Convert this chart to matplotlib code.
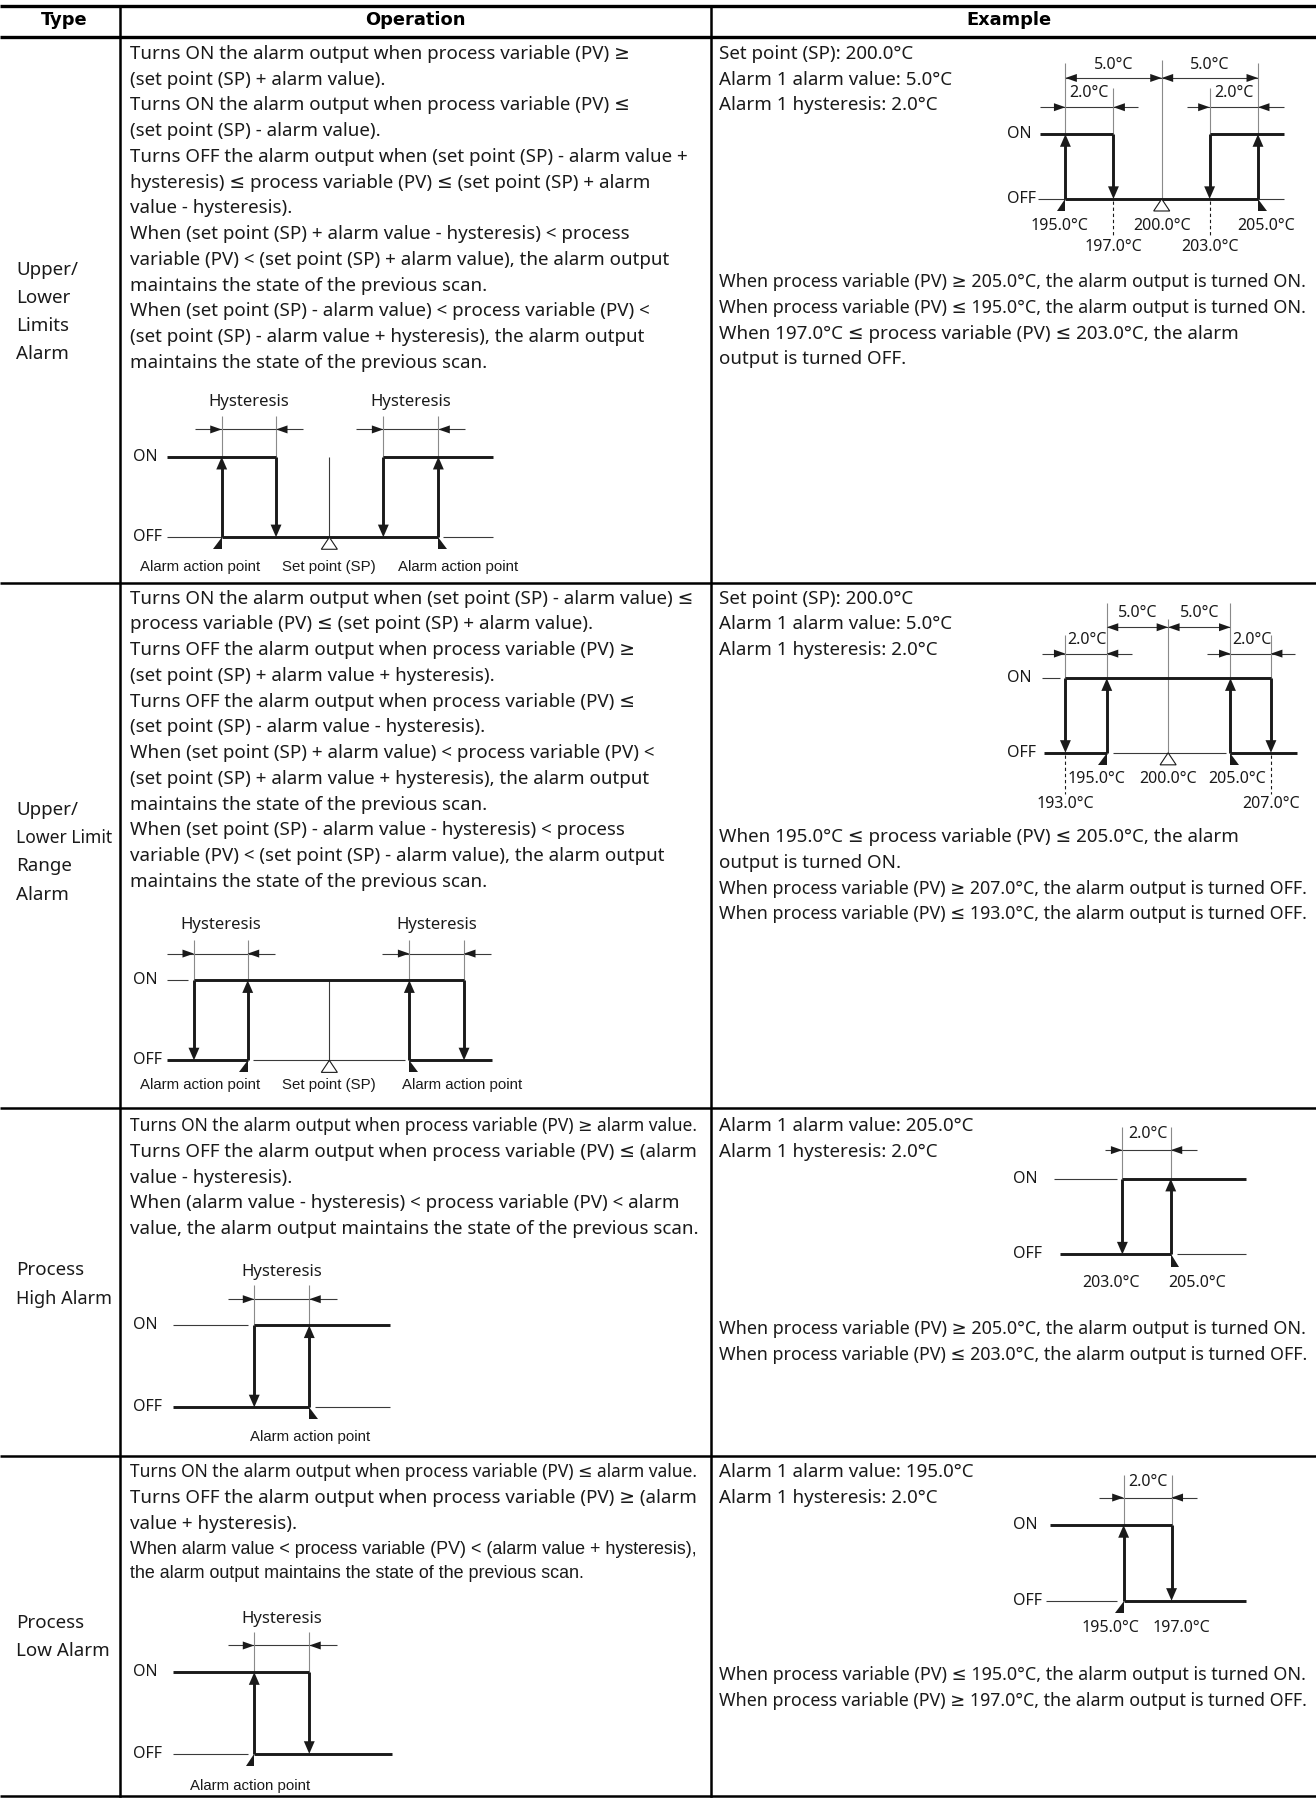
import matplotlib
matplotlib.use('Agg')
import matplotlib.pyplot as plt

# ---------------- data ----------------
headers = ['Type', 'Operation', 'Example']

alarm_types = [
    ['Upper/', 'Lower', 'Limits', 'Alarm'],
    ['Upper/', 'Lower Limit', 'Range', 'Alarm'],
    ['Process', 'High Alarm'],
    ['Process', 'Low Alarm'],
]

operation_lines = [
    ['Turns ON the alarm output when process variable (PV) ≥',
     '(set point (SP) + alarm value).',
     'Turns ON the alarm output when process variable (PV) ≤',
     '(set point (SP) - alarm value).',
     'Turns OFF the alarm output when (set point (SP) - alarm value +',
     'hysteresis) ≤ process variable (PV) ≤ (set point (SP) + alarm',
     'value - hysteresis).',
     'When (set point (SP) + alarm value - hysteresis) < process',
     'variable (PV) < (set point (SP) + alarm value), the alarm output',
     'maintains the state of the previous scan.',
     'When (set point (SP) - alarm value) < process variable (PV) <',
     '(set point (SP) - alarm value + hysteresis), the alarm output',
     'maintains the state of the previous scan.'],
    ['Turns ON the alarm output when (set point (SP) - alarm value) ≤',
     'process variable (PV) ≤ (set point (SP) + alarm value).',
     'Turns OFF the alarm output when process variable (PV) ≥',
     '(set point (SP) + alarm value + hysteresis).',
     'Turns OFF the alarm output when process variable (PV) ≤',
     '(set point (SP) - alarm value - hysteresis).',
     'When (set point (SP) + alarm value) < process variable (PV) <',
     '(set point (SP) + alarm value + hysteresis), the alarm output',
     'maintains the state of the previous scan.',
     'When (set point (SP) - alarm value - hysteresis) < process',
     'variable (PV) < (set point (SP) - alarm value), the alarm output',
     'maintains the state of the previous scan.'],
    ['Turns ON the alarm output when process variable (PV) ≥ alarm value.',
     'Turns OFF the alarm output when process variable (PV) ≤ (alarm',
     'value - hysteresis).',
     'When (alarm value - hysteresis) < process variable (PV) < alarm',
     'value, the alarm output maintains the state of the previous scan.'],
    ['Turns ON the alarm output when process variable (PV) ≤ alarm value.',
     'Turns OFF the alarm output when process variable (PV) ≥ (alarm',
     'value + hysteresis).'],
]
# last two lines of the low alarm row are set in a narrower face
operation_narrow = ['When alarm value < process variable (PV) < (alarm value + hysteresis),',
                    'the alarm output maintains the state of the previous scan.']

set_point = 200.0
alarm_value = 5.0
hysteresis = 2.0
high_alarm = 205.0
low_alarm = 195.0
limits_temps = [195.0, 197.0, 200.0, 203.0, 205.0]
range_temps = [193.0, 195.0, 200.0, 205.0, 207.0]
high_temps = [203.0, 205.0]
low_temps = [195.0, 197.0]


def deg(v):
    return f'{v:.1f}°C'


example_settings = [
    [f'Set point (SP): {deg(set_point)}', f'Alarm 1 alarm value: {deg(alarm_value)}',
     f'Alarm 1 hysteresis: {deg(hysteresis)}'],
    [f'Set point (SP): {deg(set_point)}', f'Alarm 1 alarm value: {deg(alarm_value)}',
     f'Alarm 1 hysteresis: {deg(hysteresis)}'],
    [f'Alarm 1 alarm value: {deg(high_alarm)}', f'Alarm 1 hysteresis: {deg(hysteresis)}'],
    [f'Alarm 1 alarm value: {deg(low_alarm)}', f'Alarm 1 hysteresis: {deg(hysteresis)}'],
]
example_results = [
    [f'When process variable (PV) ≥ {deg(limits_temps[4])}, the alarm output is turned ON.',
     f'When process variable (PV) ≤ {deg(limits_temps[0])}, the alarm output is turned ON.',
     f'When {deg(limits_temps[1])} ≤ process variable (PV) ≤ {deg(limits_temps[3])}, the alarm',
     'output is turned OFF.'],
    [f'When {deg(range_temps[1])} ≤ process variable (PV) ≤ {deg(range_temps[3])}, the alarm',
     'output is turned ON.',
     f'When process variable (PV) ≥ {deg(range_temps[4])}, the alarm output is turned OFF.',
     f'When process variable (PV) ≤ {deg(range_temps[0])}, the alarm output is turned OFF.'],
    [f'When process variable (PV) ≥ {deg(high_temps[1])}, the alarm output is turned ON.',
     f'When process variable (PV) ≤ {deg(high_temps[0])}, the alarm output is turned OFF.'],
    [f'When process variable (PV) ≤ {deg(low_temps[0])}, the alarm output is turned ON.',
     f'When process variable (PV) ≥ {deg(low_temps[1])}, the alarm output is turned OFF.'],
]

# ---------------- layout (units of a 1148 x 1568 sheet) ----------------
SHEET_W, SHEET_H = 1148, 1568
row_lines = [5.5, 32, 508, 966, 1270, 1566]
col_lines = [105, 620]
type_x, op_x, ex_x = 14, 113, 627
type_max, op_max, ex_max = 98, 609, 1141
pitch = 22.45
type_y0 = [235.4, 706.6, 1107.9, 1415]
op_y0 = [47, 522, 982, 1284]
result_y0 = [246, 730, 1159, 1461]

INK = '#1a1a1a'
GREY = '#8a8a8a'
DARK = '#3a3a3a'
THICK = 2.1
THIN = 0.8
BODY = ['Noto Sans', 'DejaVu Sans']
NARROW = ['Liberation Sans', 'DejaVu Sans']
FS = 13.5

fig = plt.figure(figsize=(13.16, 17.98), dpi=100)
ax = fig.add_axes([0, 0, 1, 1])
ax.set_xlim(0, SHEET_W)
ax.set_ylim(SHEET_H, 0)
ax.axis('off')
renderer = fig.canvas.get_renderer()


def line(xs, ys, bold=False, color=INK, ls='-'):
    ax.plot(xs, ys, color=color, lw=THICK if bold else THIN, ls=ls,
            solid_capstyle='butt', zorder=3 if bold else 2)


def head(x, y, d, w=9.5, l=11):
    if d == 'up':
        pts = [(x, y), (x - w / 2, y + l), (x + w / 2, y + l)]
    elif d == 'down':
        pts = [(x, y), (x - w / 2, y - l), (x + w / 2, y - l)]
    elif d == 'right':
        pts = [(x, y), (x - l, y - w / 2), (x - l, y + w / 2)]
    else:
        pts = [(x, y), (x + l, y - w / 2), (x + l, y + w / 2)]
    xs, ys = zip(*pts)
    ax.fill(xs, ys, color=INK, lw=0, zorder=4)


def switch(x, y_from, y_to):
    up = y_to < y_from
    line([x, x], [y_from, y_to + (8 if up else -8)], bold=True)
    head(x, y_to, 'up' if up else 'down')


def dim_in(x1, x2, y, left, right):
    line([left, right], [y, y], color=DARK)
    head(x1, y, 'right', 7, 10)
    head(x2, y, 'left', 7, 10)


def dim_out(x1, x2, y):
    line([x1, x2], [y, y], color=DARK)
    head(x1, y, 'left', 7, 10)
    head(x2, y, 'right', 7, 10)


def action_mark(x, y, side):
    dx = -7.5 if side == 'left' else 7.5
    ax.fill([x, x, x + dx], [y, y + 10.5, y + 10.5], color=INK, lw=0, zorder=4)


def sp_mark(x, y):
    ax.fill([x, x - 7, x + 7], [y, y + 10.5, y + 10.5], facecolor='white',
            edgecolor=INK, lw=0.8, zorder=4)


def label(x, y, s, ha='center', size=12, family=BODY, right=None):
    t = ax.text(x, y, s, ha=ha, va='center', fontsize=size, family=family, color=INK)
    if right is not None:
        # the source squeezes long lines into the cell; shrink to the same width
        room = ax.transData.transform((right, 0))[0] - ax.transData.transform((x, 0))[0]
        width = t.get_window_extent(renderer).width
        if width > room:
            t.set_fontsize(size * room / width)
    return t


# ---------------- table frame ----------------
for i, y in enumerate(row_lines):
    ax.plot([0, SHEET_W], [y, y], color='black', lw=2.4 if i < 2 else 1.8, solid_capstyle='butt')
for x in col_lines:
    ax.plot([x, x], [row_lines[0], row_lines[-1]], color='black', lw=1.8)

for x, h in zip([56, 362.5, 880], headers):
    ax.text(x, 17.5, h, ha='center', va='center', fontsize=12.9, fontweight='bold',
            family='DejaVu Sans')

for r in range(4):
    for i, s in enumerate(alarm_types[r]):
        label(type_x, type_y0[r] + i * 24.5, s, ha='left', size=FS, right=type_max)
    for i, s in enumerate(operation_lines[r]):
        label(op_x, op_y0[r] + i * pitch, s, ha='left', size=FS, right=op_max)
    for i, s in enumerate(example_settings[r]):
        label(ex_x, op_y0[r] + i * pitch, s, ha='left', size=FS, right=ex_max)
    for i, s in enumerate(example_results[r]):
        label(ex_x, result_y0[r] + i * pitch, s, ha='left', size=FS, right=ex_max)
for i, s in enumerate(operation_narrow):
    label(op_x, 1351 + i * 21.5, s, ha='left', size=12.9, family=NARROW, right=op_max)

# ---------------- operation diagrams ----------------
# Upper/lower limits
a, b, sp, c, d = 193.4, 240.8, 287.3, 334.4, 382.4
on, off = 398.4, 468.5
label(116, on, 'ON', ha='left', size=11.5)
label(116, off, 'OFF', ha='left', size=11.5)
for x0, x1 in [(a, b), (c, d)]:
    label((x0 + x1) / 2, 350.4, 'Hysteresis', size=12)
    dim_in(x0, x1, 374.5, x0 - 23.5, x1 + 23.5)
    for x in (x0, x1):
        line([x, x], [363, on], color=GREY)
line([145.4, b], [on, on], bold=True)
line([c, 430.3], [on, on], bold=True)
line([145.4, a], [off, off], color=DARK)
line([a, d], [off, off], bold=True)
line([d + 4, 430.3], [off, off], color=DARK)
line([sp, sp], [on, off], color=DARK)
switch(a, off, on)
switch(b, on, off)
switch(c, on, off)
switch(d, off, on)
action_mark(a, off, 'left')
action_mark(d, off, 'right')
sp_mark(sp, off)
label(174.5, 494.4, 'Alarm action point', size=10.8, family=NARROW)
label(sp, 494.4, 'Set point (SP)', size=10.8, family=NARROW)
label(399.5, 494.4, 'Alarm action point', size=10.8, family=NARROW)

# Upper/lower limit range
a, b, sp, c, d = 169.2, 216.1, 287.3, 357.1, 404.8
on, off = 854.9, 924.7
label(116, on, 'ON', ha='left', size=11.5)
label(116, off, 'OFF', ha='left', size=11.5)
for x0, x1 in [(a, b), (c, d)]:
    label((x0 + x1) / 2, 806.9, 'Hysteresis', size=12)
    dim_in(x0, x1, 831.6, x0 - 23.5, x1 + 23.5)
    for x in (x0, x1):
        line([x, x], [819.4, on], color=GREY)
line([145.4, 164.3], [on, on], color=DARK)
line([a, d], [on, on], bold=True)
line([145.4, b], [off, off], bold=True)
line([b + 5, c - 4], [off, off], color=DARK)
line([c, 428.9], [off, off], bold=True)
line([sp, sp], [on, off], color=DARK)
switch(a, on, off)
switch(b, off, on)
switch(c, off, on)
switch(d, on, off)
action_mark(b, off, 'left')
action_mark(c, off, 'right')
sp_mark(sp, off)
label(174.5, 946, 'Alarm action point', size=10.8, family=NARROW)
label(sp, 946, 'Set point (SP)', size=10.8, family=NARROW)
label(402.8, 946, 'Alarm action point', size=10.8, family=NARROW)

# Process high
a, b = 221.8, 269.8
on, off = 1155.9, 1227.3
label(116, on, 'ON', ha='left', size=11.5)
label(116, off, 'OFF', ha='left', size=11.5)
label((a + b) / 2, 1109, 'Hysteresis', size=12)
dim_in(a, b, 1133, a - 22.6, b + 23.9)
for x in (a, b):
    line([x, x], [1121, on], color=GREY)
line([151.2, 216.6], [on, on], color=DARK)
line([a, 340.2], [on, on], bold=True)
line([151.2, b], [off, off], bold=True)
line([274.8, 340.2], [off, off], color=DARK)
switch(a, on, off)
switch(b, off, on)
action_mark(b, off, 'right')
label(270.4, 1253.3, 'Alarm action point', size=10.8, family=NARROW)

# Process low
on, off = 1458.3, 1529.5
label(116, on, 'ON', ha='left', size=11.5)
label(116, off, 'OFF', ha='left', size=11.5)
label((a + b) / 2, 1411.7, 'Hysteresis', size=12)
dim_in(a, b, 1435, a - 22.6, b + 23.9)
for x in (a, b):
    line([x, x], [1423.4, on], color=GREY)
line([151.2, b], [on, on], bold=True)
line([151.2, 216.6], [off, off], color=DARK)
line([a, 341.7], [off, off], bold=True)
switch(a, off, on)
switch(b, on, off)
action_mark(a, off, 'left')
label(218.1, 1557.2, 'Alarm action point', size=10.8, family=NARROW)

# ---------------- example diagrams ----------------
EFS = 11.5

# Upper/lower limits example
t = limits_temps
p = dict(zip(t, [929.4, 971.3, 1013.4, 1055.2, 1097.4]))
on, off = 117, 173.5
label(900, on, 'ON', ha='right', size=EFS)
label(904, off, 'OFF', ha='right', size=EFS)
dim_out(p[t[0]], p[t[2]], 68)
dim_out(p[t[2]], p[t[4]], 68)
label((p[t[0]] + p[t[2]]) / 2, 57, deg(alarm_value), size=EFS)
label((p[t[2]] + p[t[4]]) / 2, 57, deg(alarm_value), size=EFS)
dim_in(p[t[0]], p[t[1]], 93.5, 907.2, 992.7)
dim_in(p[t[3]], p[t[4]], 93.5, 1035.5, 1119.7)
label(950.3, 81, deg(hysteresis), size=EFS)
label(1076.2, 81, deg(hysteresis), size=EFS)
line([p[t[0]]] * 2, [55, on], color=GREY)
line([p[t[4]]] * 2, [55, on], color=GREY)
line([p[t[1]]] * 2, [77, on], color=GREY)
line([p[t[3]]] * 2, [77, on], color=GREY)
line([p[t[2]]] * 2, [52, off], color=GREY)
line([907, p[t[1]]], [on, on], bold=True)
line([p[t[3]], 1119.7], [on, on], bold=True)
line([905.5, p[t[0]]], [off, off], color=DARK)
line([p[t[0]], p[t[4]]], [off, off], bold=True)
line([p[t[4]], 1119.7], [off, off], color=DARK)
switch(p[t[0]], off, on)
switch(p[t[1]], on, off)
switch(p[t[3]], on, off)
switch(p[t[4]], off, on)
action_mark(p[t[0]], off, 'left')
action_mark(p[t[4]], off, 'right')
sp_mark(p[t[2]], off)
for k in (1, 3):
    line([p[t[k]]] * 2, [off + 2, 206], color=INK, ls=(0, (3, 2.5)))
label(924.3, 197.5, deg(t[0]), size=EFS)
label(p[t[2]], 197.5, deg(t[2]), size=EFS)
label(1104.2, 197.5, deg(t[4]), size=EFS)
label(p[t[1]], 215, deg(t[1]), size=EFS)
label(p[t[3]], 215, deg(t[3]), size=EFS)

# Upper/lower limit range example
t = range_temps
p = dict(zip(t, [929.4, 965.5, 1019.0, 1073.4, 1108.7]))
on, off = 591.5, 656.5
label(900, on, 'ON', ha='right', size=EFS)
label(904, off, 'OFF', ha='right', size=EFS)
dim_out(p[t[1]], p[t[2]], 547)
dim_out(p[t[2]], p[t[3]], 547)
label((p[t[1]] + p[t[2]]) / 2, 535, deg(alarm_value), size=EFS)
label((p[t[2]] + p[t[3]]) / 2, 535, deg(alarm_value), size=EFS)
dim_in(p[t[0]], p[t[1]], 570, 908.8, 987.5)
dim_in(p[t[3]], p[t[4]], 570, 1052.9, 1130)
label(p[t[0]] + 1.5, 558, deg(hysteresis), ha='left', size=EFS)
label(p[t[3]] + 1.5, 558, deg(hysteresis), ha='left', size=EFS)
line([p[t[1]]] * 2, [526, on], color=GREY)
line([p[t[3]]] * 2, [526, on], color=GREY)
line([p[t[0]]] * 2, [554, on], color=GREY)
line([p[t[4]]] * 2, [554, on], color=GREY)
line([p[t[2]]] * 2, [540, off], color=GREY)
line([908.8, 924.3], [on, on], color=DARK)
line([p[t[0]], p[t[4]]], [on, on], bold=True)
line([910.6, p[t[1]]], [off, off], bold=True)
line([p[t[1]] + 5, p[t[3]] - 4], [off, off], color=DARK)
line([p[t[3]], 1131.5], [off, off], bold=True)
switch(p[t[0]], on, off)
switch(p[t[1]], off, on)
switch(p[t[3]], off, on)
switch(p[t[4]], on, off)
action_mark(p[t[1]], off, 'left')
action_mark(p[t[3]], off, 'right')
sp_mark(p[t[2]], off)
for k in (0, 4):
    line([p[t[k]]] * 2, [off + 2, 692], color=INK, ls=(0, (3, 2.5)))
label(p[t[0]] + 1.5, 679, deg(t[1]), ha='left', size=EFS)
label(p[t[2]], 679, deg(t[2]), size=EFS)
label(p[t[4]] - 4.5, 679, deg(t[3]), ha='right', size=EFS)
label(p[t[0]], 701, deg(t[0]), size=EFS)
label(p[t[4]], 701, deg(t[4]), size=EFS)

# Process high example
t = high_temps
p = dict(zip(t, [979.1, 1021.3]))
on, off = 1028, 1094
label(905.4, on, 'ON', ha='right', size=EFS)
label(908.8, off, 'OFF', ha='right', size=EFS)
dim_in(p[t[0]], p[t[1]], 1003, 963.7, 1044.2)
label(1001, 989, deg(hysteresis), size=EFS)
for x in p.values():
    line([x, x], [983, on], color=GREY)
line([919.1, 974], [on, on], color=DARK)
line([p[t[0]], 1087.1], [on, on], bold=True)
line([924.3, p[t[1]]], [off, off], bold=True)
line([1027.1, 1087.1], [off, off], color=DARK)
switch(p[t[0]], on, off)
switch(p[t[1]], off, on)
action_mark(p[t[1]], off, 'right')
label(968.9, 1119, deg(t[0]), size=EFS)
label(1044.2, 1119, deg(t[1]), size=EFS)

# Process low example
t = low_temps
p = dict(zip(t, [980.2, 1022.0]))
on, off = 1330, 1396
label(905.4, on, 'ON', ha='right', size=EFS)
label(908.8, off, 'OFF', ha='right', size=EFS)
dim_in(p[t[0]], p[t[1]], 1306, 958.5, 1044.2)
label(1001, 1292, deg(hysteresis), size=EFS)
for x in p.values():
    line([x, x], [1286, on], color=GREY)
line([915.7, p[t[1]]], [on, on], bold=True)
line([912.3, 974], [off, off], color=DARK)
line([p[t[0]], 1087.1], [off, off], bold=True)
switch(p[t[0]], off, on)
switch(p[t[1]], on, off)
action_mark(p[t[0]], off, 'left')
label(968.9, 1420, deg(t[0]), size=EFS)
label(1030.5, 1420, deg(t[1]), size=EFS)

fig.savefig('out.png', dpi=100, facecolor='white')
